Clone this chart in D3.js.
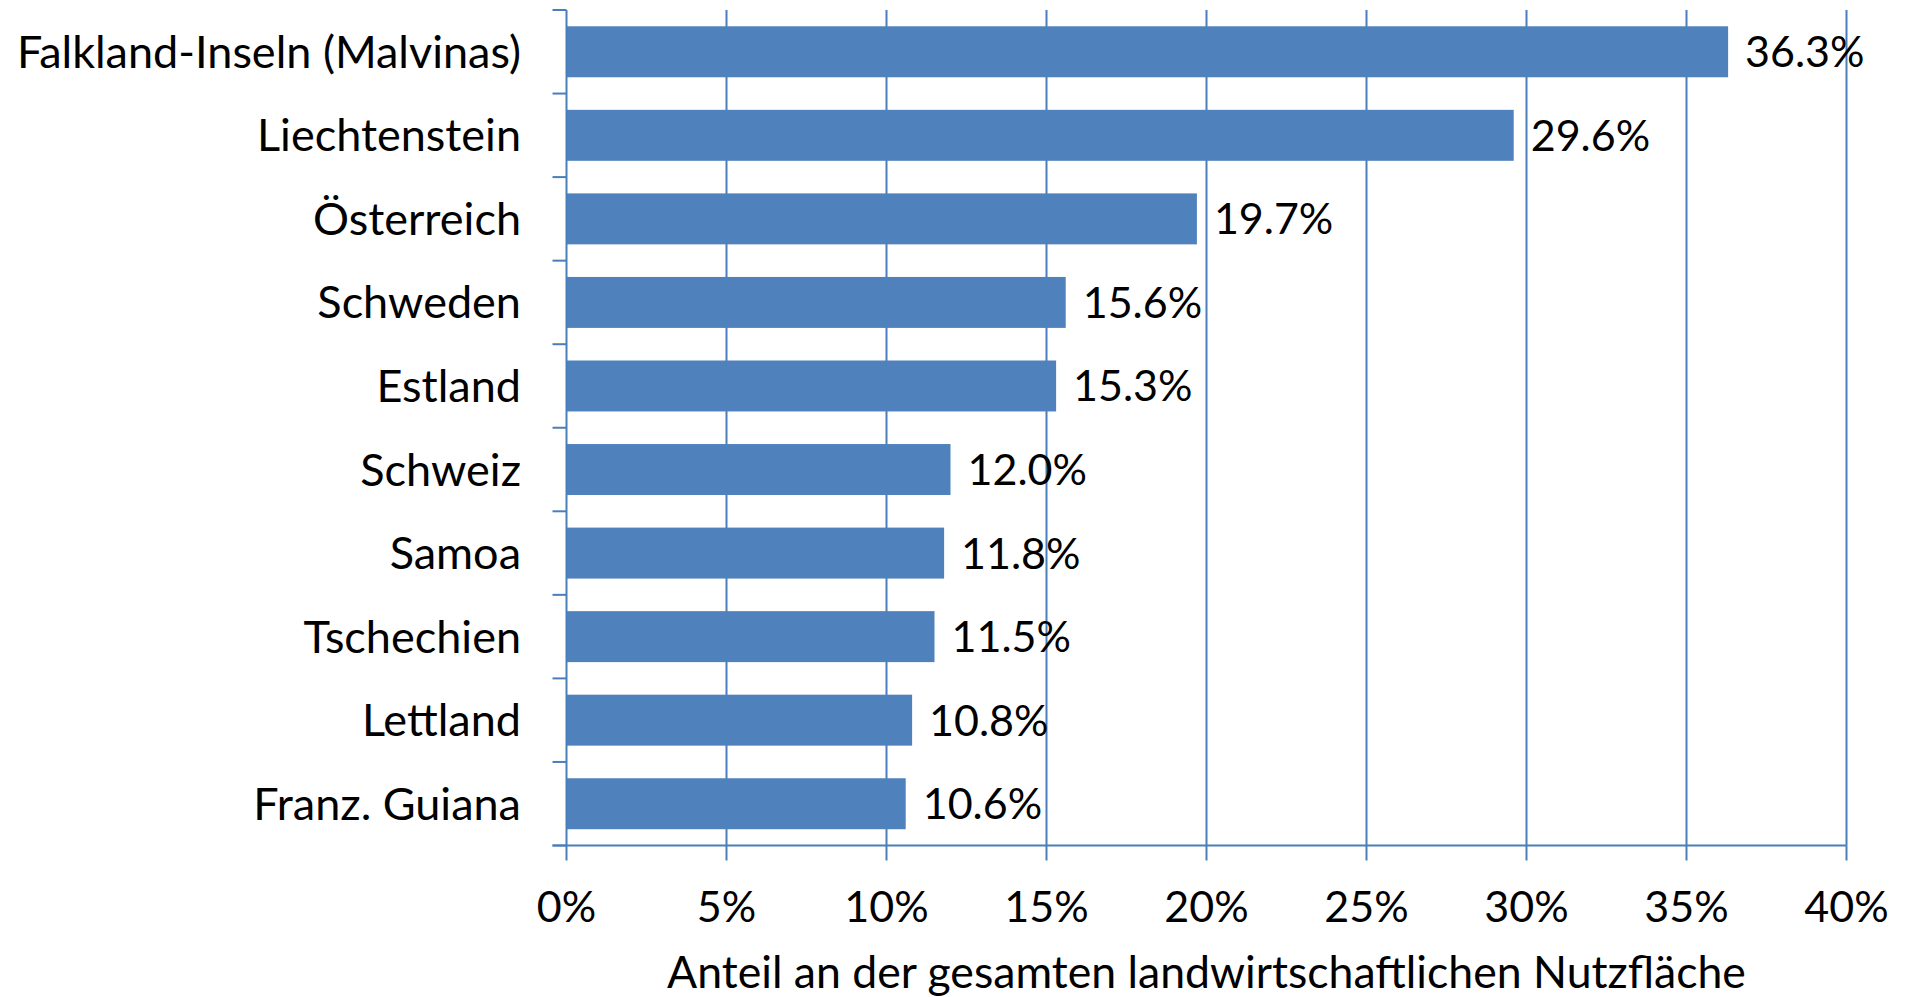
<!DOCTYPE html>
<html>
<head>
<meta charset="utf-8">
<script src="https://cdn.jsdelivr.net/npm/d3@7"></script>
<style>
  body { margin: 0; background: #fff; }
  text { font-family: Lato, "Open Sans", sans-serif; fill: #000; }
</style>
</head>
<body>
<script>
// Data
const countries = ["Falkland-Inseln (Malvinas)", "Liechtenstein", "Österreich", "Schweden", "Estland",
  "Schweiz", "Samoa", "Tschechien", "Lettland", "Franz. Guiana"];
const shares = [36.3, 29.6, 19.7, 15.6, 15.3, 12.0, 11.8, 11.5, 10.8, 10.6];
const xTicks = [0, 5, 10, 15, 20, 25, 30, 35, 40];
const xTitle = "Anteil an der gesamten landwirtschaftlichen Nutzfläche";

const width = 1908, height = 997;
const margin = { top: 10, right: 61.5, bottom: 151.5, left: 566.5 };
const fontSize = 43;      // numbers
const labelSize = 45;     // category names
const titleSize = 44.6;   // axis title
const blue = "#4f81bd", lineBlue = "#4a7ebb";

const svg = d3.select("body").append("svg")
  .attr("width", width)
  .attr("height", height)
  .attr("viewBox", [0, 0, width, height]);

const x = d3.scaleLinear()
  .domain([0, 40])
  .range([margin.left, width - margin.right]);

const y = d3.scaleBand()
  .domain(countries)
  .range([margin.top, height - margin.bottom])
  .paddingInner(0.39)
  .paddingOuter(0.195);

const y0 = margin.top, y1 = height - margin.bottom;

// vertical gridlines
svg.append("g")
  .selectAll("line")
  .data(xTicks.slice(1))
  .join("line")
  .attr("x1", d => x(d)).attr("x2", d => x(d))
  .attr("y1", y0).attr("y2", y1)
  .attr("stroke", lineBlue)
  .attr("stroke-width", 2);

// bars
svg.append("g")
  .selectAll("rect")
  .data(shares)
  .join("rect")
  .attr("x", x(0))
  .attr("y", (d, i) => y(countries[i]))
  .attr("width", d => x(d) - x(0))
  .attr("height", y.bandwidth())
  .attr("fill", blue);

// value labels
svg.append("g")
  .selectAll("text")
  .data(shares)
  .join("text")
  .attr("x", d => x(d) + 17)
  .attr("y", (d, i) => y(countries[i]) + y.bandwidth() / 2 + 15.5)
  .style("font-size", fontSize + "px")
  .text(d => d3.format(".1f")(d) + "%");

// category axis (left) with ticks between bands
const step = y.step();
const axisY = svg.append("g");
axisY.append("line")
  .attr("x1", x(0)).attr("x2", x(0))
  .attr("y1", y0).attr("y2", y1)
  .attr("stroke", lineBlue).attr("stroke-width", 2);
axisY.selectAll(".tick")
  .data(d3.range(countries.length + 1))
  .join("line")
  .attr("class", "tick")
  .attr("x1", x(0) - 14).attr("x2", x(0))
  .attr("y1", i => y0 + i * step).attr("y2", i => y0 + i * step)
  .attr("stroke", lineBlue).attr("stroke-width", 2);
axisY.selectAll("text")
  .data(countries)
  .join("text")
  .attr("x", 521)
  .attr("y", d => y(d) + y.bandwidth() / 2 + 16)
  .attr("text-anchor", "end")
  .style("font-size", labelSize + "px")
  .text(d => d);

// value axis (bottom)
const axisX = svg.append("g");
axisX.append("line")
  .attr("x1", x(0) - 14).attr("x2", x(40))
  .attr("y1", y1).attr("y2", y1)
  .attr("stroke", lineBlue).attr("stroke-width", 2);
axisX.selectAll(".tick")
  .data(xTicks)
  .join("line")
  .attr("class", "tick")
  .attr("x1", d => x(d)).attr("x2", d => x(d))
  .attr("y1", y1).attr("y2", y1 + 15)
  .attr("stroke", lineBlue).attr("stroke-width", 2);
axisX.selectAll("text")
  .data(xTicks)
  .join("text")
  .attr("x", d => x(d))
  .attr("y", 922)
  .attr("text-anchor", "middle")
  .style("font-size", fontSize + "px")
  .text(d => d + "%");

// axis title
svg.append("text")
  .attr("x", (x(0) + x(40)) / 2)
  .attr("y", 988)
  .attr("text-anchor", "middle")
  .style("font-size", titleSize + "px")
  .text(xTitle);
</script>
</body>
</html>
